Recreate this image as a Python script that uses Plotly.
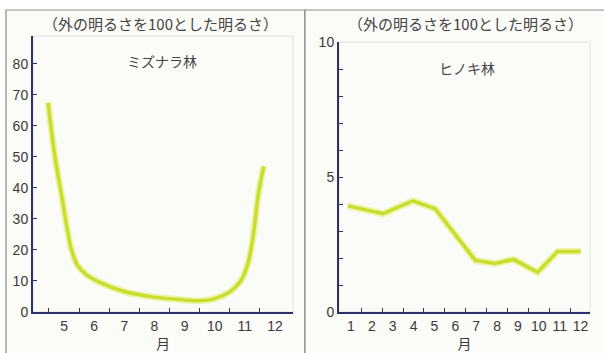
import plotly.graph_objects as go

# ---- data ----
oak_months = [4.47, 4.7, 4.93, 5.1, 5.25, 5.45, 5.75, 6.2, 7.0, 8.0, 9.0, 9.5, 10.0, 10.5, 10.85, 11.1, 11.27, 11.45, 11.63]
oak_light = [67.5, 50, 37, 27, 20, 15, 12, 9.5, 6.6, 4.8, 3.9, 3.6, 4.3, 6.5, 9.8, 15.5, 24, 38, 47]

cypress_months = [0.86, 2.54, 3.98, 5.04, 6.96, 7.92, 8.79, 9.94, 10.9, 12.0]
cypress_light = [3.93, 3.64, 4.12, 3.82, 1.91, 1.80, 1.95, 1.47, 2.24, 2.24]

oak_ticks = [5, 6, 7, 8, 9, 10, 11, 12]
oak_yticks = [0, 10, 20, 30, 40, 50, 60, 70, 80]
cyp_ticks = list(range(1, 13))
cyp_yticks = [0, 5, 10]

header = "（外の明るさを100とした明るさ）"
oak_name = "ミズナラ林"
cyp_name = "ヒノキ林"
x_title = "月"

W, H = 604, 353
FONT = "Liberation Sans, Arial, Noto Sans CJK JP, sans-serif"
JFONT = "Noto Sans CJK JP, sans-serif"
AX = "#2b3070"
LINE = "#c9de2c"
GLOW = "#e4f07c"
TXT = "#3a3a3a"

def px(x):
    return x / W

def py(y):
    return 1 - y / H

fig = go.Figure()
for xs, ys, xa, ya, shape in [
    (oak_months, oak_light, "x", "y", "spline"),
    (cypress_months, cypress_light, "x2", "y2", "linear"),
]:
    fig.add_trace(go.Scatter(x=xs, y=ys, xaxis=xa, yaxis=ya, mode="lines",
                             line=dict(color=GLOW, width=7, shape=shape, smoothing=1.0),
                             opacity=0.6, hoverinfo="skip", showlegend=False))
    fig.add_trace(go.Scatter(x=xs, y=ys, xaxis=xa, yaxis=ya, mode="lines",
                             line=dict(color=LINE, width=3.5, shape=shape, smoothing=1.0),
                             showlegend=False))

common_x = dict(showgrid=False, zeroline=False, showline=True, linecolor=AX, linewidth=2,
                ticks="", automargin=False, tickfont=dict(family=FONT, size=14, color=TXT),
                title=dict(text=x_title, font=dict(family=JFONT, size=14, color=TXT), standoff=0))
common_y = dict(showgrid=False, zeroline=False, showline=True, linecolor=AX, linewidth=2,
                ticks="inside", ticklen=4, tickcolor=AX, tickwidth=1, automargin=False,
                tickfont=dict(family=FONT, size=14, color=TXT))

fig.update_layout(
    width=W, height=H, margin=dict(l=0, r=0, t=0, b=0),
    paper_bgcolor="#ffffff", plot_bgcolor="#fefef8",
    xaxis=dict(common_x, domain=[px(33), px(293)], range=[3.97, 12.6], anchor="y",
               tickmode="array", tickvals=oak_ticks,
               minor=dict(tickmode="array", tickvals=[m - 0.5 for m in oak_ticks],
                          ticks="inside", ticklen=4, tickcolor=AX, tickwidth=1)),
    yaxis=dict(common_y, domain=[py(312), py(36)], range=[0, 89], anchor="x",
               tickmode="array", tickvals=oak_yticks),
    xaxis2=dict(common_x, domain=[px(339), px(590)], range=[0.43, 12.45], anchor="y2",
                tickmode="array", tickvals=cyp_ticks,
                minor=dict(tickmode="array", tickvals=[m + 0.5 for m in cyp_ticks[:-1]],
                           ticks="inside", ticklen=4, tickcolor=AX, tickwidth=1)),
    yaxis2=dict(common_y, domain=[py(312), py(42)], range=[0, 10], anchor="x2",
                tickmode="array", tickvals=cyp_yticks,
                minor=dict(dtick=1, ticks="inside", ticklen=4, tickcolor=AX, tickwidth=1)),
)

# panel frames
fig.add_shape(type="rect", xref="paper", yref="paper", x0=px(6), x1=px(305), y0=py(360), y1=py(10),
              line=dict(color="#8a8a8a", width=1.2), fillcolor="#fbfbf7", layer="below")
fig.add_shape(type="rect", xref="paper", yref="paper", x0=px(305), x1=px(612), y0=py(360), y1=py(10),
              line=dict(color="#8a8a8a", width=1.2), fillcolor="#fbfbf7", layer="below")
# faint plot-area borders
fig.add_shape(type="rect", xref="paper", yref="paper", x0=px(33), x1=px(293), y0=py(312), y1=py(36),
              line=dict(color="#e2e2dc", width=1), layer="below")
fig.add_shape(type="rect", xref="paper", yref="paper", x0=px(339), x1=px(590), y0=py(312), y1=py(42),
              line=dict(color="#e2e2dc", width=1), layer="below")

for x, y, t, s in [(161, 24, header, 15), (465, 24, header, 15),
                   (162, 61, oak_name, 14), (467, 68, cyp_name, 14)]:
    fig.add_annotation(xref="paper", yref="paper", x=px(x), y=py(y), text=t, showarrow=False,
                       xanchor="center", yanchor="middle",
                       font=dict(family=JFONT, size=s, color="#444444"))

fig.write_html("out.html", config={"displayModeBar": False},
               post_script="document.body.style.margin='0';document.body.style.overflow='hidden';")
